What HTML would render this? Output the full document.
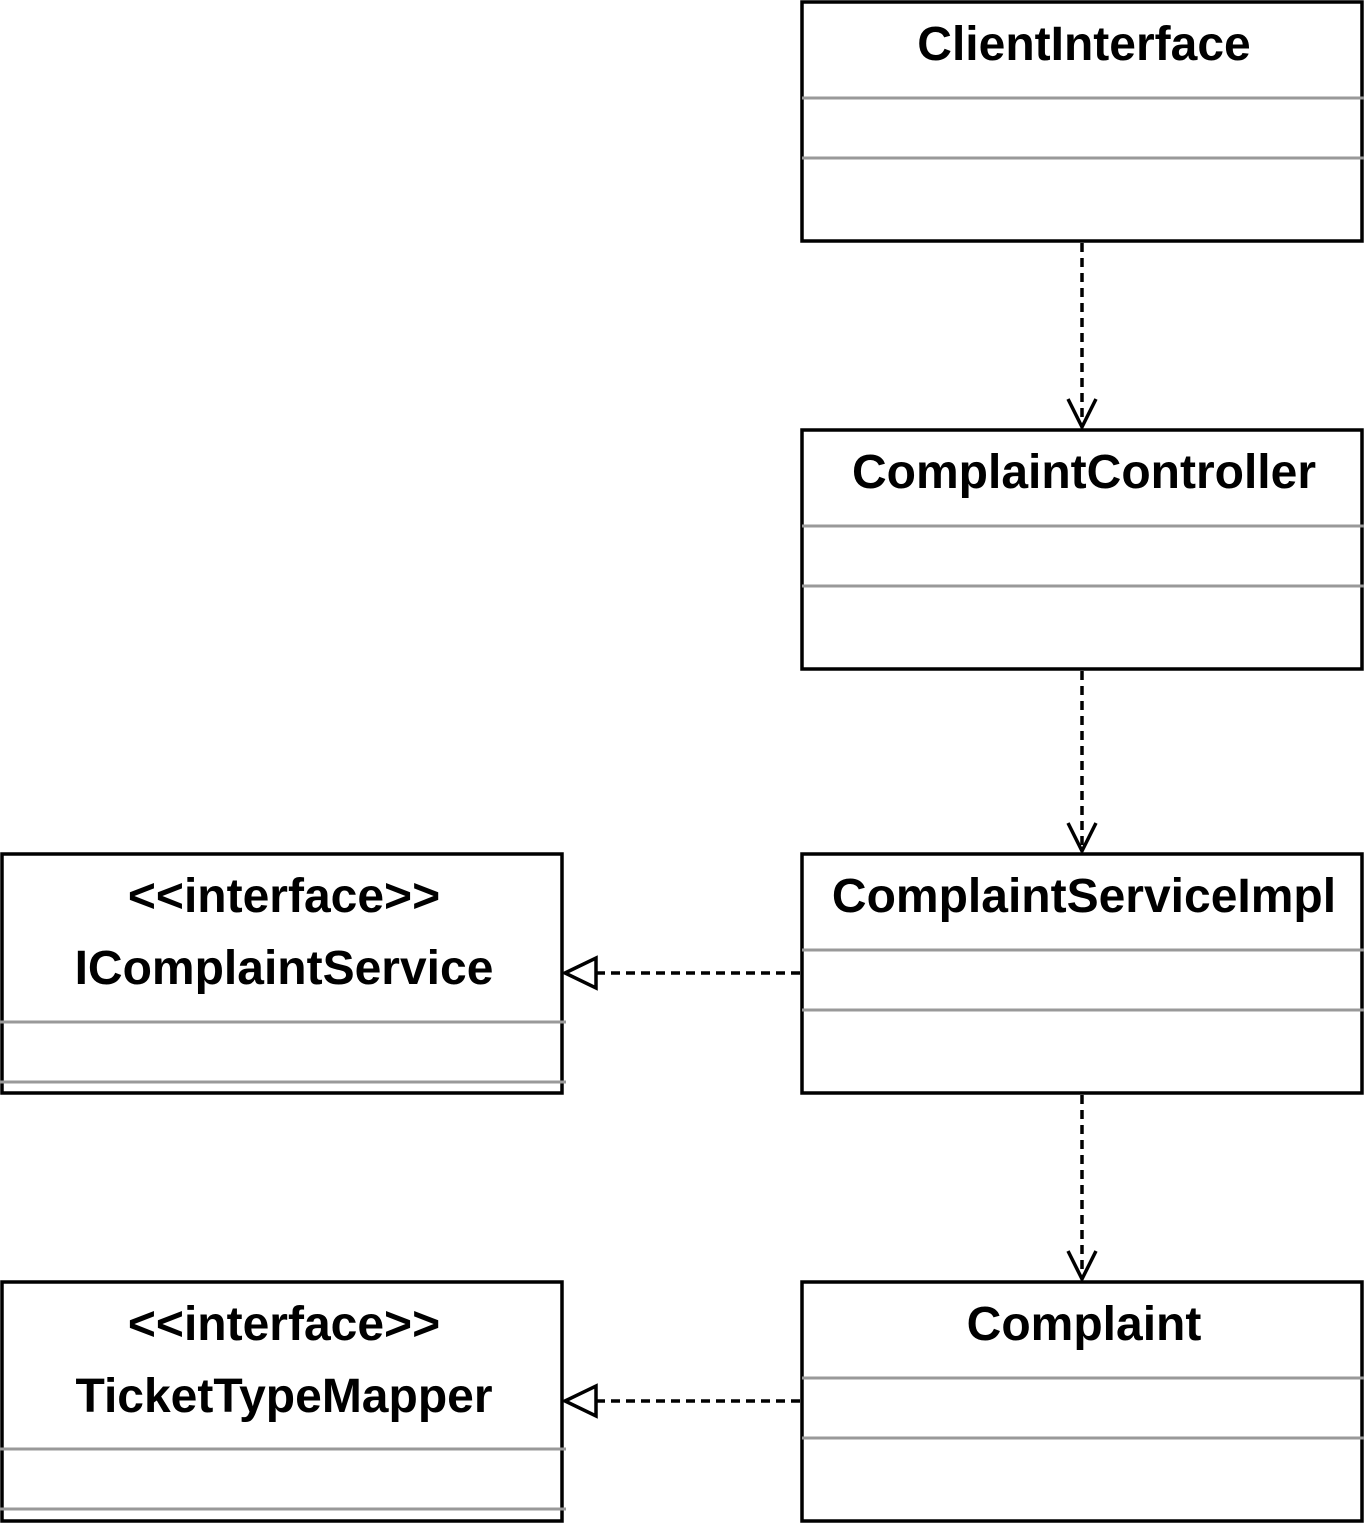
<!DOCTYPE html>
<html><head><meta charset="utf-8"><style>
html,body{margin:0;padding:0;background:#fff;}
svg{display:block;}
text{font-family:"Liberation Sans",Arial,sans-serif;font-weight:bold;font-size:48px;fill:#000;text-anchor:middle;}
</style></head><body>
<svg width="1364" height="1524" viewBox="0 0 1364 1524" xmlns="http://www.w3.org/2000/svg">
<g fill="#fff" stroke="#000" stroke-width="3.5">
<rect x="802" y="2" width="560" height="239"/>
<rect x="802" y="430" width="560" height="239"/>
<rect x="802" y="854" width="560" height="239"/>
<rect x="802" y="1282" width="560" height="239"/>
<rect x="2" y="854" width="560" height="239"/>
<rect x="2" y="1282" width="560" height="239"/>
</g>
<g stroke="#999" stroke-width="3">
<line x1="802" y1="98" x2="1364" y2="98"/><line x1="802" y1="158" x2="1364" y2="158"/>
<line x1="802" y1="526" x2="1364" y2="526"/><line x1="802" y1="586" x2="1364" y2="586"/>
<line x1="802" y1="950" x2="1364" y2="950"/><line x1="802" y1="1010" x2="1364" y2="1010"/>
<line x1="802" y1="1378" x2="1364" y2="1378"/><line x1="802" y1="1438" x2="1364" y2="1438"/>
<line x1="0" y1="1022" x2="566" y2="1022"/><line x1="0" y1="1082" x2="566" y2="1082"/>
<line x1="0" y1="1449" x2="566" y2="1449"/><line x1="0" y1="1509" x2="566" y2="1509"/>
</g>
<text x="1084" y="60">ClientInterface</text>
<text x="1084" y="488">ComplaintController</text>
<text x="1084" y="912">ComplaintServiceImpl</text>
<text x="1084" y="1340">Complaint</text>
<text x="284" y="912">&lt;&lt;interface&gt;&gt;</text>
<text x="284" y="984">IComplaintService</text>
<text x="284" y="1340">&lt;&lt;interface&gt;&gt;</text>
<text x="284" y="1412">TicketTypeMapper</text>
<g stroke="#000" stroke-width="3.5" fill="none">
<line x1="1082" y1="243" x2="1082" y2="426" stroke-dasharray="9 6"/>
<polyline points="1068,399 1082,427 1096,399"/>
<line x1="1082" y1="671" x2="1082" y2="850" stroke-dasharray="9 6"/>
<polyline points="1068,823 1082,851 1096,823"/>
<line x1="1082" y1="1095" x2="1082" y2="1278" stroke-dasharray="9 6"/>
<polyline points="1068,1251 1082,1279 1096,1251"/>
<line x1="800" y1="973" x2="597" y2="973" stroke-dasharray="9 6"/>
<polygon points="565,973 596,958 596,988" fill="#fff"/>
<line x1="800" y1="1401" x2="597" y2="1401" stroke-dasharray="9 6"/>
<polygon points="565,1401 596,1386 596,1416" fill="#fff"/>
</g>
</svg>
</body></html>
